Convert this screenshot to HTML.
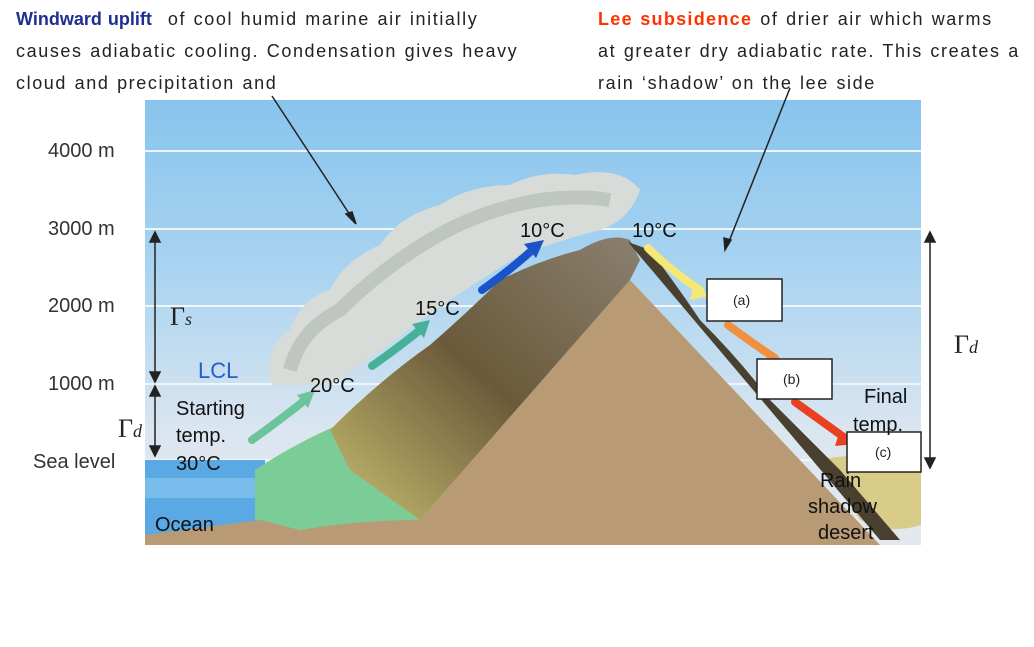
<!DOCTYPE html>
<html><head><meta charset="utf-8"><style>
body{margin:0;background:#fff;width:1034px;height:647px;overflow:hidden;font-family:"Liberation Sans",sans-serif}
.t{position:absolute;font-size:18px;color:#222;line-height:32px;white-space:nowrap;letter-spacing:1.6px;word-spacing:1px}
</style></head><body>
<svg width="1034" height="647" style="position:absolute;left:0;top:0">
<defs>
<linearGradient id="sky" x1="0" y1="0" x2="0" y2="1">
<stop offset="0" stop-color="#88c4ee"/><stop offset="0.35" stop-color="#a6d2f0"/><stop offset="0.6" stop-color="#c6def0"/><stop offset="0.75" stop-color="#dce6f0"/><stop offset="1" stop-color="#e4e8ee"/>
</linearGradient>
<linearGradient id="rock" x1="0" y1="1" x2="1" y2="0">
<stop offset="0" stop-color="#c8c070"/><stop offset="0.5" stop-color="#6b5a3a"/><stop offset="1" stop-color="#8a8070"/>
</linearGradient>
</defs>
<rect x="145" y="100" width="776" height="445" fill="url(#sky)"/>
<g stroke="#eef6fb" stroke-width="2">
<line x1="145" y1="151" x2="921" y2="151"/><line x1="145" y1="229" x2="921" y2="229"/><line x1="145" y1="306" x2="921" y2="306"/><line x1="145" y1="384" x2="921" y2="384"/><line x1="145" y1="460" x2="921" y2="460"/>
</g>
<rect x="145" y="460" width="120" height="85" fill="#5aa8e4"/>
<rect x="145" y="478" width="110" height="20" fill="#78bcec"/>
<path d="M272 385 Q262 350 290 330 Q300 300 330 290 Q345 260 380 245 Q400 215 440 205 Q470 185 510 185 Q540 170 575 175 Q620 165 640 190 Q630 220 600 230 Q560 240 520 255 Q480 280 450 300 Q420 320 395 340 Q360 365 330 385 Z" fill="#d8dcd8"/>
<path d="M290 370 Q300 330 340 310 Q380 270 430 240 Q480 210 540 200 Q580 195 610 200" stroke="#bfc6c2" stroke-width="14" fill="none"/>
<path d="M820 460 Q860 450 921 465 L921 525 Q890 535 860 520 Z" fill="#d8cc88"/>
<path d="M255 470 Q300 440 350 420 Q400 390 430 375 L460 400 L430 520 L300 530 L255 520 Z" fill="#7ccc98"/>
<path d="M330 430 Q380 380 430 345 Q470 310 500 280 Q540 260 580 250 Q610 232 630 240 L640 260 L630 280 L420 520 L350 470 Z" fill="url(#rock)"/>
<path d="M628 242 L650 250 Q680 290 700 320 Q740 360 770 400 Q810 440 840 470 L900 540 L880 540 Z" fill="#4a4030"/>
<path d="M270 545 L300 530 Q360 520 420 520 L630 280 L880 545 Z" fill="#b89a74"/>
<path d="M145 535 Q200 528 260 520 L300 530 L280 545 L145 545 Z" fill="#b89a74"/>
<g stroke-width="8" fill="none" stroke-linecap="round">
<path d="M252 440 Q280 420 305 400" stroke="#6cc49a"/>
<path d="M372 366 Q395 350 420 330" stroke="#46b09a"/>
<path d="M482 290 Q510 270 530 252" stroke="#1a54c8"/>
<path d="M648 248 Q670 270 700 290" stroke="#f4e878"/>
<path d="M728 325 Q755 345 775 358" stroke="#f09040"/>
<path d="M795 402 Q820 420 845 438" stroke="#e84020"/>
</g>
<g>
<polygon points="297,395 315,390 308,408" fill="#6cc49a"/>
<polygon points="412,324 430,320 424,338" fill="#46b09a"/>
<polygon points="524,244 544,240 536,258" fill="#1a54c8"/>
<polygon points="694,282 710,296 690,300" fill="#f4e878"/>
<polygon points="770,350 784,362 764,364" fill="#f09040"/>
<polygon points="840,430 855,444 835,446" fill="#e84020"/>
</g>
<g stroke="#222" stroke-width="1.5" fill="#222">
<line x1="272" y1="96" x2="352" y2="218"/><polygon points="356,224 346,214 352,212"/>
<line x1="790" y1="88" x2="728" y2="244"/><polygon points="725,250 724,238 731,240"/>
<line x1="155" y1="236" x2="155" y2="378"/><polygon points="155,232 150,242 160,242"/><polygon points="155,382 150,372 160,372"/>
<line x1="155" y1="390" x2="155" y2="452"/><polygon points="155,386 150,396 160,396"/><polygon points="155,456 150,446 160,446"/>
<line x1="930" y1="236" x2="930" y2="464"/><polygon points="930,232 925,242 935,242"/><polygon points="930,468 925,458 935,458"/>
</g>
<g fill="#fff" stroke="#222" stroke-width="1.5">
<rect x="707" y="279" width="75" height="42"/><rect x="757" y="359" width="75" height="40"/><rect x="847" y="432" width="74" height="40"/>
</g>
<g font-family="Liberation Sans,sans-serif" font-size="20" fill="#333">
<text x="48" y="157">4000 m</text><text x="48" y="235">3000 m</text><text x="48" y="312">2000 m</text><text x="48" y="390">1000 m</text><text x="33" y="468">Sea level</text>
</g>
<g font-family="Liberation Sans,sans-serif" font-size="20" fill="#111">
<text x="520" y="237">10°C</text><text x="632" y="237">10°C</text><text x="415" y="315">15°C</text><text x="310" y="392">20°C</text>
<text x="176" y="415">Starting</text><text x="176" y="442">temp.</text><text x="176" y="470">30°C</text>
<text x="155" y="531">Ocean</text>
<text x="864" y="403">Final</text><text x="853" y="431">temp.</text>
<text x="820" y="487">Rain</text><text x="808" y="513">shadow</text><text x="818" y="539">desert</text>
</g>
<text x="198" y="378" font-family="Liberation Sans,sans-serif" font-size="22" fill="#2060d0">LCL</text>
<g font-family="Liberation Sans,sans-serif" font-size="14" fill="#222">
<text x="733" y="305">(a)</text><text x="783" y="384">(b)</text><text x="875" y="457">(c)</text>
</g>
<g font-family="Liberation Serif,serif" font-size="26" fill="#222">
<text x="170" y="325">Γ<tspan font-size="18" font-style="italic">s</tspan></text>
<text x="118" y="437">Γ<tspan font-size="18" font-style="italic">d</tspan></text>
<text x="954" y="353">Γ<tspan font-size="18" font-style="italic">d</tspan></text>
</g>
</svg>
<div class="t" style="left:16px;top:3px"><b style="color:#1f2f8f;letter-spacing:0;margin-right:16px">Windward uplift</b>of cool humid marine air initially<br>causes adiabatic cooling. Condensation gives heavy<br>cloud and precipitation and</div>
<div class="t" style="left:598px;top:3px"><b style="color:#ff3300;letter-spacing:1.3px;margin-right:8px">Lee subsidence</b>of drier air which warms<br>at greater dry adiabatic rate. This creates a<br>rain ‘shadow’ on the lee side</div>
</body></html>
